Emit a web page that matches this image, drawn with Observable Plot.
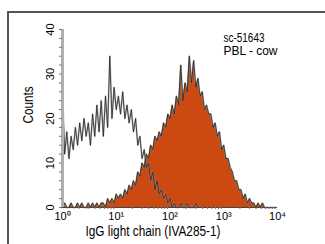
<!DOCTYPE html>
<html><head><meta charset="utf-8">
<script src="https://cdn.jsdelivr.net/npm/d3@7"></script>
<script src="https://cdn.jsdelivr.net/npm/@observablehq/plot@0.6"></script>
<style>
body{margin:0;background:#fff;}
#wrap{position:relative;width:325px;height:244px;overflow:hidden;}
#frame{position:absolute;left:7px;top:11px;right:-5px;bottom:-5px;border-top:2px solid #555;border-left:2px solid #555;pointer-events:none;}
#wrap svg{position:absolute;left:0;top:0;}
</style></head><body><div id="wrap"><div id="frame"></div></div>
<script>
// Histogram channels: log10 position of channel i = binStart + i * binStep
const binStart = 0;
const binStep = 0.04;
// Isotype control histogram (open)
const controlCounts = [26,12,17,11,16,13,18,14,19,15,20,16,19,14,21,16,23,17,24,16,25,18,34,20,27,22,25,21,26,20,23,19,22,17,20,14,16,11,13,9,10,6,8,4,6,3,4,2,3,1,2,0,1,0,0,1,0,0,1,0,0,0,1,0];
// Stained sample histogram (filled)
const sampleCounts = [0,1,0,0,1,0,0,1,0,1,0,0,1,0,1,0,1,0,1,1,0,2,1,2,1,3,2,3,2,4,3,5,4,6,5,8,7,10,9,12,11,14,13,16,15,17,16,19,18,21,20,23,21,25,23,32,24,28,26,34,28,33,27,29,25,26,22,23,21,21,18,19,16,17,13,14,11,11,9,8,6,6,4,4,2,3,1,2,1,1,0,1,0,1,0,0,0,0,0,0];
const xTicks = [1,10,100,1000,10000];
const xTickLabels = ["10\u2070","10\u00b9","10\u00b2","10\u00b3","10\u2074"];
const yTicks = [0,10,20,30,40];
const yMinorTicks = d3.range(0,41,2);
const xMinorTicks = [2,3,4,5,6,7,8,9,20,30,40,50,60,70,80,90,200,300,400,500,600,700,800,900,2000,3000,4000,5000,6000,7000,8000,9000];
const xTitle = "IgG light chain (IVA285-1)";
const yTitle = "Counts";
const noteLines = ["sc-51643", "PBL - cow"];

const toRows = counts => counts.map((c,i)=>({x: 10 ** (binStart + i*binStep), y: c}));
const control = toRows(controlCounts);
const sample = toRows(sampleCounts);
const font = "'Liberation Sans',Arial,sans-serif";

const plot = Plot.plot({
  width: 325, height: 244,
  marginLeft: 62, marginRight: 48, marginTop: 29, marginBottom: 37,
  style: {fontFamily: font, background: "transparent", color: "#000"},
  x: {type: "log", domain: [1, 10000], label: null},
  y: {domain: [0, 40], label: null},
  marks: [
    Plot.areaY(sample, {x: "x", y: "y", fill: "#cc4a12"}),
    Plot.lineY(sample, {x: "x", y: "y", stroke: "#888", strokeWidth: 1.8, strokeOpacity: 0.6}),
    Plot.lineY(sample, {x: "x", y: "y", stroke: "#222", strokeWidth: 0.8}),
    Plot.lineY(control, {x: "x", y: "y", stroke: "#999", strokeWidth: 1.8, strokeOpacity: 0.6}),
    Plot.lineY(control, {x: "x", y: "y", stroke: "#222", strokeWidth: 0.8}),
    Plot.ruleY([0], {stroke: "#444", strokeWidth: 1}),
    Plot.ruleX([1], {stroke: "#b0b0b0", strokeWidth: 3}),
    Plot.axisY({ticks: yMinorTicks, tickSize: 3, tickFormat: () => "", stroke: "#777", label: null}),
    Plot.axisX({ticks: xMinorTicks, tickSize: 2, tickFormat: () => "", stroke: "#777", label: null}),
    Plot.axisX({ticks: xTicks, tickSize: 0, tickPadding: 5, tickFormat: d => xTickLabels[xTicks.indexOf(d)], fontSize: 11, label: null}),
    Plot.text(yTicks, {x: 1, y: d => d, text: d => String(d), rotate: -90, dx: -12, fontSize: 11}),
    Plot.text([yTitle], {frameAnchor: "left", dx: -34, dy: 5, rotate: -90, fontSize: 14}),
    Plot.text([xTitle], {frameAnchor: "bottom", dx: -17, dy: 28, fontSize: 14}),
    Plot.text([noteLines[0]], {frameAnchor: "top-left", dx: 161, dy: 4, textAnchor: "start", fontSize: 12}),
    Plot.text([noteLines[1]], {frameAnchor: "top-left", dx: 161, dy: 17, textAnchor: "start", fontSize: 12})
  ]
});
// condense titles to match the narrow typeface of the original
const fit = {[xTitle]: 135, [yTitle]: 37, [noteLines[0]]: 41, [noteLines[1]]: 54};
d3.select(plot).selectAll("text").each(function(){
  const w = fit[this.textContent];
  if (w && this.childElementCount === 0) d3.select(this).attr("textLength", w).attr("lengthAdjust", "spacingAndGlyphs");
});
document.getElementById("wrap").prepend(plot);
</script>
</body></html>
